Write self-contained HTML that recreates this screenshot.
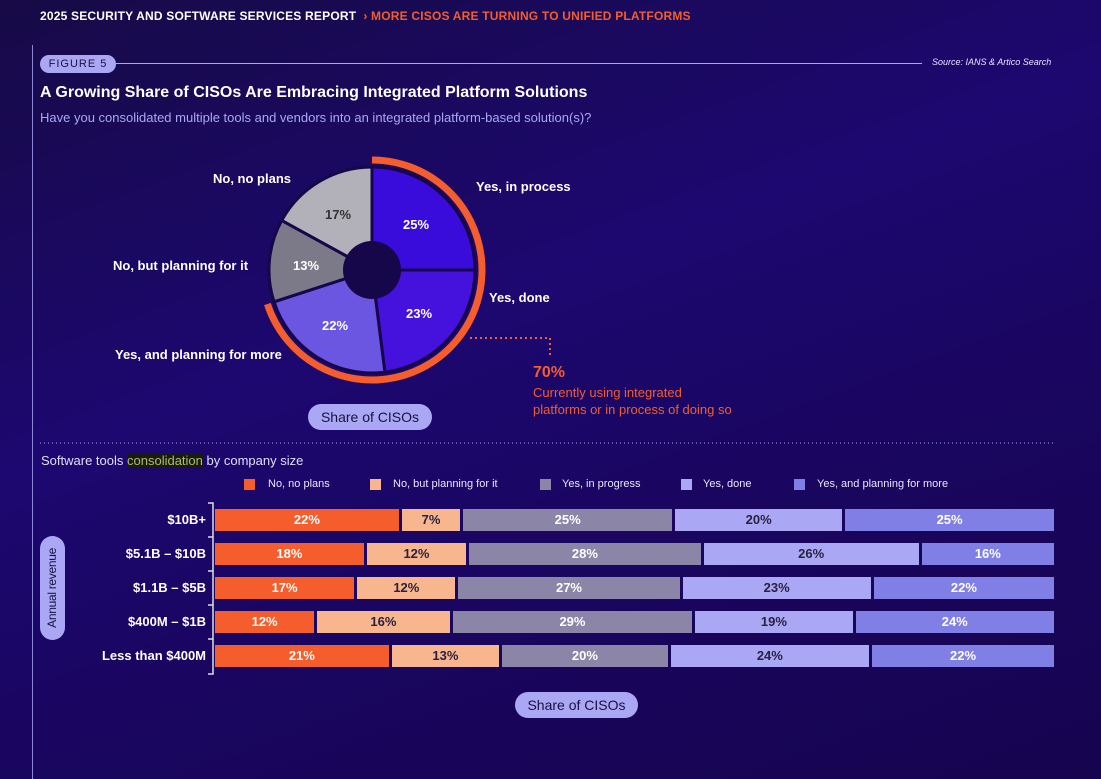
<!DOCTYPE html>
<html><head><meta charset="utf-8"><style>
*{margin:0;padding:0;box-sizing:border-box}
body{width:1101px;height:779px;overflow:hidden;position:relative;font-family:"Liberation Sans",sans-serif;
background:linear-gradient(160deg,#170a46 0%,#1c0870 40%,#1a0662 60%,#16044f 100%);color:#fff}
.a{position:absolute;white-space:nowrap}
.b{font-weight:bold}
.pill{position:absolute;background:#aaa8f5;color:#1a1040;border-radius:14px;text-align:center;font-size:14px}
.row{position:absolute;left:215px;width:839px;height:22px;display:flex;gap:3px}
.row div{height:22px;line-height:22px;text-align:center;font-size:13px;font-weight:bold}
.c1{background:#f55d2c;color:#fff}.c2{background:#f8b68f;color:#2a2040}.c3{background:#8b85a8;color:#fff}.c4{background:#aaa8f5;color:#2a2040}.c5{background:#7f7fe6;color:#fff}
.lg{position:absolute;width:11px;height:11px}
.lt{position:absolute;font-size:11px;color:#e8e6ff}
.yl{position:absolute;right:895px;font-size:13px;font-weight:bold;text-align:right}
</style></head><body>
<div class="a b" style="left:40px;top:9px;font-size:12px;letter-spacing:.2px">2025 SECURITY AND SOFTWARE SERVICES REPORT <span style="color:#f55d2c">&nbsp;› MORE CISOS ARE TURNING TO UNIFIED PLATFORMS</span></div>
<div class="a" style="left:32px;top:45px;width:1px;height:734px;background:#8c88d8"></div>
<div class="pill" style="left:40px;top:55px;width:76px;height:18px;font-size:11px;line-height:18px;letter-spacing:1px">FIGURE 5</div>
<div class="a" style="left:116px;top:63px;width:806px;height:1px;background:#aaa8f5"></div>
<div class="a" style="left:932px;top:57px;font-size:9px;font-style:italic;color:#e8e6ff">Source: IANS &amp; Artico Search</div>
<div class="a b" style="left:40px;top:84px;font-size:16px">A Growing Share of CISOs Are Embracing Integrated Platform Solutions</div>
<div class="a" style="left:40px;top:110px;font-size:13px;color:#aaa8f5">Have you consolidated multiple tools and vendors into an integrated platform-based solution(s)?</div>
<svg class="a" style="left:0;top:0" width="1101" height="779">
<g stroke="#16064a" stroke-width="3">
<path d="M372,270 L372,167 A103,103 0 0 1 475,270 Z" fill="#3a0cdc"/>
<path d="M372,270 L475,270 A103,103 0 0 1 384.9,372.2 Z" fill="#4412dc"/>
<path d="M372,270 L384.9,372.2 A103,103 0 0 1 274,301.8 Z" fill="#6b56e2"/>
<path d="M372,270 L274,301.8 A103,103 0 0 1 281.7,220.4 Z" fill="#7c7a88"/>
<path d="M372,270 L281.7,220.4 A103,103 0 0 1 372,167 Z" fill="#b2b0b8"/>
</g>
<circle cx="372" cy="270" r="29" fill="#16064a"/>
<path d="M372,160 A110,110 0 1 1 267.4,304" fill="none" stroke="#f55d2c" stroke-width="7"/>
<path d="M470,338 H550 V358" fill="none" stroke="#f55d2c" stroke-width="2" stroke-dasharray="2,3"/>
<line x1="40" y1="443" x2="1054" y2="443" stroke="#aaa8f5" stroke-width="1" stroke-dasharray="1,3"/>
<path d="M208,503 H213 V674 H208 M208,537 H213 M208,571 H213 M208,605 H213 M208,639 H213" fill="none" stroke="#ddd" stroke-width="1.5"/>
</svg>
<div class="a b" style="left:403px;top:217px;font-size:13px">25%</div>
<div class="a b" style="left:406px;top:306px;font-size:13px">23%</div>
<div class="a b" style="left:322px;top:318px;font-size:13px">22%</div>
<div class="a b" style="left:293px;top:258px;font-size:13px">13%</div>
<div class="a b" style="left:325px;top:207px;font-size:13px;color:#333">17%</div>
<div class="a b" style="left:213px;top:171px;font-size:13px">No, no plans</div>
<div class="a b" style="left:113px;top:258px;font-size:13px">No, but planning for it</div>
<div class="a b" style="left:115px;top:347px;font-size:13px">Yes, and planning for more</div>
<div class="a b" style="left:476px;top:179px;font-size:13px">Yes, in process</div>
<div class="a b" style="left:489px;top:290px;font-size:13px">Yes, done</div>
<div class="a b" style="left:533px;top:364px;font-size:16px;color:#f55d2c">70%</div>
<div class="a" style="left:533px;top:384px;font-size:13px;line-height:17px;color:#f55d2c">Currently using integrated<br>platforms or in process of doing so</div>
<div class="pill" style="left:308px;top:404px;width:124px;height:26px;line-height:26px">Share of CISOs</div>
<div class="a" style="left:41px;top:453px;font-size:13px;color:#e0def8">Software tools <span style="background:#1a1a12;color:#a8c060">consolidation</span> by company size</div>
<div class="lg" style="left:244px;top:479px;background:#f55d2c"></div><div class="lt" style="left:268px;top:478px">No, no plans</div>
<div class="lg" style="left:370px;top:479px;background:#f8b68f"></div><div class="lt" style="left:393px;top:478px">No, but planning for it</div>
<div class="lg" style="left:540px;top:479px;background:#8b85a8"></div><div class="lt" style="left:562px;top:478px">Yes, in progress</div>
<div class="lg" style="left:681px;top:479px;background:#aaa8f5"></div><div class="lt" style="left:703px;top:478px">Yes, done</div>
<div class="lg" style="left:794px;top:479px;background:#7f7fe6"></div><div class="lt" style="left:817px;top:478px">Yes, and planning for more</div>
<div class="pill" style="left:40px;top:536px;width:25px;height:104px;border-radius:13px;display:flex;align-items:center;justify-content:center"><div style="writing-mode:vertical-rl;transform:rotate(180deg);font-size:12px;letter-spacing:-0.3px;line-height:25px">Annual revenue</div></div>
<div class="yl" style="top:512px">$10B+</div>
<div class="yl" style="top:546px">$5.1B – $10B</div>
<div class="yl" style="top:580px">$1.1B – $5B</div>
<div class="yl" style="top:614px">$400M – $1B</div>
<div class="yl" style="top:648px">Less than $400M</div>
<div class="row" style="top:509px"><div class="c1" style="flex:22">22%</div><div class="c2" style="flex:7">7%</div><div class="c3" style="flex:25">25%</div><div class="c4" style="flex:20">20%</div><div class="c5" style="flex:25">25%</div></div>
<div class="row" style="top:543px"><div class="c1" style="flex:18">18%</div><div class="c2" style="flex:12">12%</div><div class="c3" style="flex:28">28%</div><div class="c4" style="flex:26">26%</div><div class="c5" style="flex:16">16%</div></div>
<div class="row" style="top:577px"><div class="c1" style="flex:17">17%</div><div class="c2" style="flex:12">12%</div><div class="c3" style="flex:27">27%</div><div class="c4" style="flex:23">23%</div><div class="c5" style="flex:22">22%</div></div>
<div class="row" style="top:611px"><div class="c1" style="flex:12">12%</div><div class="c2" style="flex:16">16%</div><div class="c3" style="flex:29">29%</div><div class="c4" style="flex:19">19%</div><div class="c5" style="flex:24">24%</div></div>
<div class="row" style="top:645px"><div class="c1" style="flex:21">21%</div><div class="c2" style="flex:13">13%</div><div class="c3" style="flex:20">20%</div><div class="c4" style="flex:24">24%</div><div class="c5" style="flex:22">22%</div></div>
<div class="pill" style="left:515px;top:692px;width:123px;height:26px;line-height:26px">Share of CISOs</div>
</body></html>
